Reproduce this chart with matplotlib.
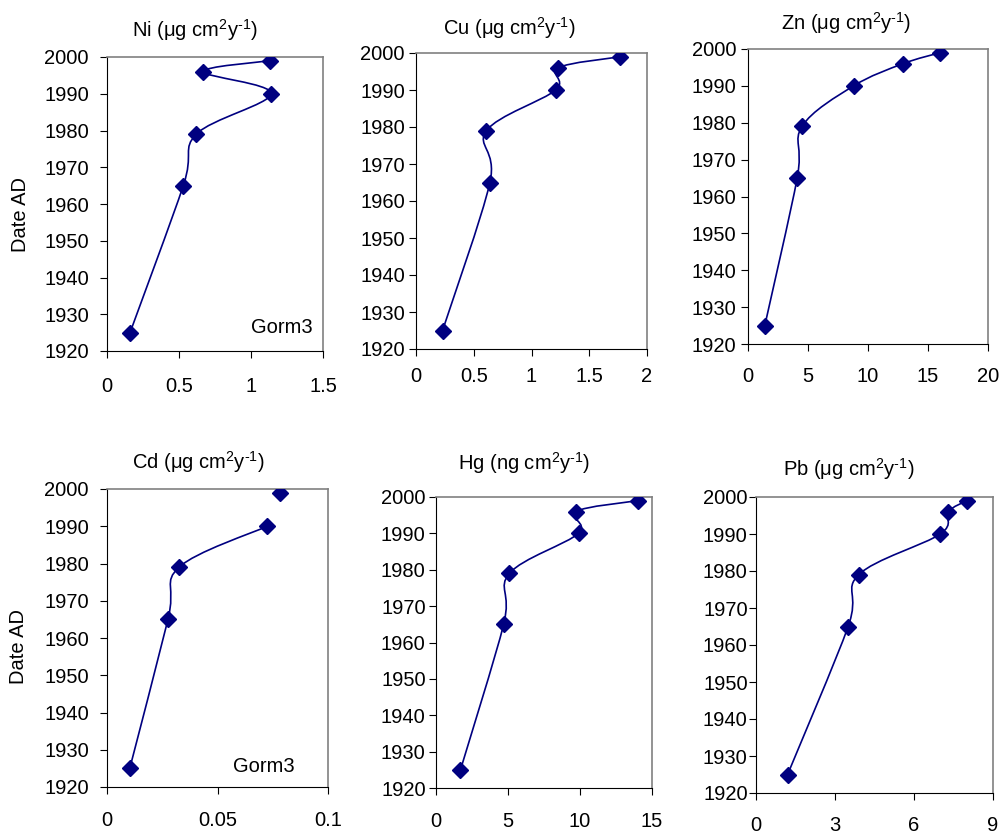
import numpy as np
import matplotlib
matplotlib.use('Agg')
import matplotlib.pyplot as plt
from matplotlib.path import Path
from matplotlib.patches import PathPatch

plt.rcParams['font.family'] = ['Liberation Sans', 'DejaVu Sans']
plt.rcParams['mathtext.fontset'] = 'custom'
plt.rcParams['mathtext.rm'] = 'Liberation Sans'
plt.rcParams['mathtext.it'] = 'Liberation Sans:italic'

# data (core Gorm3)
years = [1925, 1965, 1979, 1990, 1996, 1999]
ni = [0.16, 0.53, 0.62, 1.14, 0.67, 1.13]
cu = [0.23, 0.64, 0.61, 1.21, 1.23, 1.77]
zn = [1.4, 4.1, 4.5, 8.8, 12.9, 16.0]
cd = [0.0103, 0.0276, 0.0326, 0.0725, np.nan, 0.0782]
hg = [1.7, 4.7, 5.1, 9.9, 9.7, 14.0]
pb = [1.2, 3.5, 3.9, 7.0, 7.3, 8.0]

unit = ' cm$^{2}$y$^{\u20101}$)'
titles = ['Ni (μg' + unit, 'Cu (μg' + unit, 'Zn (μg' + unit,
          'Cd (μg' + unit, 'Hg (ng' + unit, 'Pb (μg' + unit]
series = [ni, cu, zn, cd, hg, pb]
xticks = [[0, 0.5, 1, 1.5], [0, 0.5, 1, 1.5, 2], [0, 5, 10, 15, 20],
          [0, 0.05, 0.1], [0, 5, 10, 15], [0, 3, 6, 9]]
xticklabels = [['0', '0.5', '1', '1.5'], ['0', '0.5', '1', '1.5', '2'], ['0', '5', '10', '15', '20'],
               ['0', '0.05', '0.1'], ['0', '5', '10', '15'], ['0', '3', '6', '9']]
yticks = [1920, 1930, 1940, 1950, 1960, 1970, 1980, 1990, 2000]

W, H = 1005, 834
# plot boxes in pixels: left, top, right, bottom
boxes = [(107, 57, 323, 351), (416, 53, 647, 349), (748, 49, 988, 344),
         (107, 489, 328, 787), (436, 497, 652, 788), (756, 497, 993, 793)]
title_pos = [(195, 37), (509, 35), (846, 30), (198, 469), (524, 470), (849, 476)]
xpads = [13.5, 8, 11.5, 12, 12.5, 11.5]
ypads = [8, 3, 3.6, 8, 2.4, 1]
navy = '#000080'
fs = 14.5


def smooth_path(x, y):
    # Excel-like smoothed line (Catmull-Rom as cubic Bezier)
    pts = np.column_stack([x, y])
    n = len(pts)
    verts = [pts[0]]
    codes = [Path.MOVETO]
    for i in range(n - 1):
        p0 = pts[i - 1] if i > 0 else pts[i]
        p1 = pts[i]
        p2 = pts[i + 1]
        p3 = pts[i + 2] if i + 2 < n else pts[i + 1]
        verts += [p1 + (p2 - p0) / 6, p2 - (p3 - p1) / 6, p2]
        codes += [Path.CURVE4] * 3
    return Path(verts, codes)


fig = plt.figure(figsize=(W / 100, H / 100), dpi=100)

for k in range(6):
    l, t, r, b = boxes[k]
    ax = fig.add_axes([l / W, 1 - b / H, (r - l) / W, (b - t) / H])
    vals = np.array(series[k], dtype=float)
    yrs = np.array(years, dtype=float)

    # split the line where a value is missing
    ok = ~np.isnan(vals)
    seg = []
    for i in range(len(vals) + 1):
        if i < len(vals) and ok[i]:
            seg.append(i)
        else:
            if len(seg) > 1:
                ax.add_patch(PathPatch(smooth_path(vals[seg], yrs[seg]), facecolor='none',
                                       edgecolor=navy, lw=1.2, zorder=2))
            seg = []
    ax.plot(vals, yrs, linestyle='none', marker='D', ms=7.8, color=navy, zorder=3)

    ax.set_xlim(xticks[k][0], xticks[k][-1])
    ax.set_ylim(1920, 2000)
    ax.set_xticks(xticks[k])
    ax.set_xticklabels(xticklabels[k])
    ax.set_yticks(yticks)
    ax.set_yticklabels([str(v) for v in yticks])
    ax.tick_params(axis='x', length=5, width=0.8, pad=xpads[k], labelsize=fs, colors='black')
    ax.tick_params(axis='y', length=5, width=0.8, pad=ypads[k], labelsize=fs, colors='black')
    for s in ['left', 'bottom']:
        ax.spines[s].set_color('black')
        ax.spines[s].set_linewidth(0.8)
    for s in ['top', 'right']:
        ax.spines[s].set_color('#808080')
        ax.spines[s].set_linewidth(1.2)

    tx, ty = title_pos[k]
    fig.text(tx / W, 1 - ty / H, titles[k], ha='center', va='baseline', fontsize=fs)

    if k == 0:
        ax.text(0.954, 0.061, 'Gorm3', transform=ax.transAxes, ha='right', va='baseline', fontsize=fs)
    if k == 3:
        ax.text(0.851, 0.05, 'Gorm3', transform=ax.transAxes, ha='right', va='baseline', fontsize=fs)

fig.text(21 / W, 1 - 215 / H, 'Date AD', rotation=90, ha='center', va='center', fontsize=fs)
fig.text(19 / W, 1 - 647 / H, 'Date AD', rotation=90, ha='center', va='center', fontsize=fs)

fig.savefig('out.png', dpi=100)
